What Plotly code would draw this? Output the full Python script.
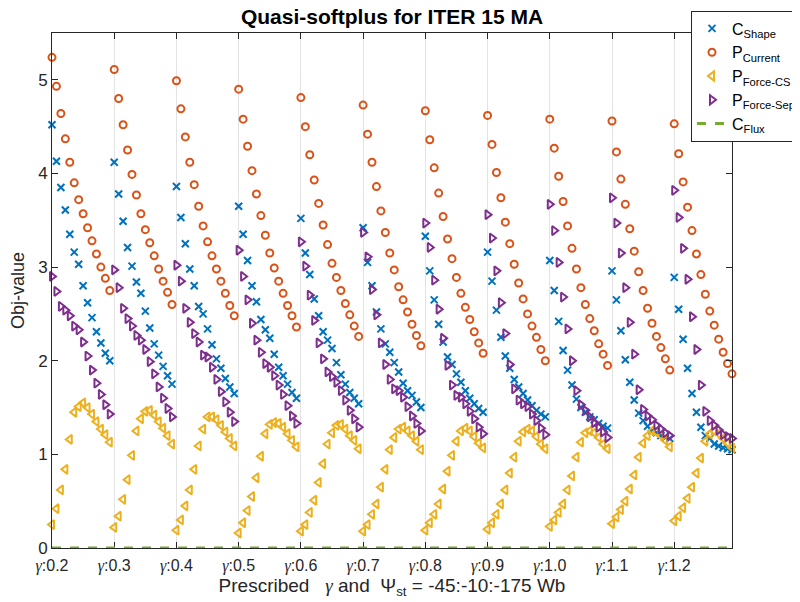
import plotly.graph_objects as go

gammas = ["0.2", "0.3", "0.4", "0.5", "0.6", "0.7", "0.8", "0.9", "1.0", "1.1", "1.2"]
psi_st = [-45, -55, -65, -75, -85, -95, -105, -115, -125, -135, -145, -155, -165, -175]

c_shape = [
    [4.52, 4.13, 3.85, 3.61, 3.35, 3.16, 3.03, 2.80, 2.62, 2.46, 2.31, 2.19, 2.08, 2.00],
    [4.12, 3.78, 3.49, 3.21, 3.01, 2.84, 2.72, 2.53, 2.35, 2.18, 2.06, 1.94, 1.84, 1.75],
    [3.86, 3.53, 3.25, 2.98, 2.80, 2.58, 2.50, 2.34, 2.17, 2.02, 1.92, 1.81, 1.72, 1.65],
    [3.65, 3.35, 3.07, 2.80, 2.63, 2.44, 2.33, 2.24, 2.07, 1.93, 1.84, 1.75, 1.66, 1.60],
    [3.52, 3.15, 2.92, 2.66, 2.48, 2.31, 2.22, 2.13, 1.98, 1.85, 1.75, 1.66, 1.60, 1.54],
    [3.42, 3.05, 2.80, 2.52, 2.34, 2.18, 2.09, 1.98, 1.88, 1.76, 1.68, 1.63, 1.56, 1.50],
    [3.33, 2.96, 2.65, 2.39, 2.20, 2.04, 1.96, 1.86, 1.77, 1.68, 1.60, 1.54, 1.49, 1.45],
    [3.16, 2.85, 2.54, 2.25, 2.05, 1.92, 1.80, 1.72, 1.65, 1.58, 1.52, 1.47, 1.43, 1.40],
    [3.07, 2.75, 2.42, 2.11, 1.90, 1.74, 1.59, 1.50, 1.45, 1.40, 1.37, 1.33, 1.30, 1.28],
    [2.96, 2.65, 2.32, 2.01, 1.77, 1.58, 1.44, 1.36, 1.30, 1.25, 1.23, 1.20, 1.18, 1.17],
    [2.89, 2.55, 2.23, 1.92, 1.65, 1.45, 1.29, 1.20, 1.17, 1.11, 1.09, 1.07, 1.06, 1.05],
]

p_current = [
    [5.24, 4.93, 4.64, 4.37, 4.12, 3.90, 3.72, 3.57, 3.42, 3.28, 3.14, 3.00, 2.88, 2.75],
    [5.11, 4.80, 4.52, 4.25, 3.99, 3.77, 3.57, 3.40, 3.26, 3.12, 2.98, 2.85, 2.73, 2.60],
    [4.99, 4.69, 4.39, 4.12, 3.88, 3.65, 3.44, 3.27, 3.12, 2.98, 2.85, 2.72, 2.59, 2.48],
    [4.90, 4.58, 4.29, 4.03, 3.78, 3.55, 3.34, 3.15, 2.99, 2.85, 2.72, 2.59, 2.48, 2.36],
    [4.81, 4.50, 4.20, 3.93, 3.68, 3.45, 3.24, 3.04, 2.89, 2.75, 2.61, 2.49, 2.37, 2.26],
    [4.73, 4.42, 4.12, 3.86, 3.60, 3.37, 3.15, 2.97, 2.79, 2.65, 2.52, 2.39, 2.27, 2.16],
    [4.67, 4.36, 4.06, 3.79, 3.54, 3.30, 3.09, 2.89, 2.72, 2.57, 2.44, 2.31, 2.19, 2.08],
    [4.62, 4.31, 4.01, 3.74, 3.48, 3.25, 3.03, 2.83, 2.66, 2.50, 2.37, 2.25, 2.12, 2.00],
    [4.58, 4.27, 3.97, 3.70, 3.44, 3.20, 2.98, 2.78, 2.60, 2.45, 2.32, 2.18, 2.07, 1.95],
    [4.56, 4.23, 3.94, 3.67, 3.41, 3.17, 2.95, 2.75, 2.56, 2.40, 2.26, 2.14, 2.02, 1.90],
    [4.53, 4.21, 3.91, 3.64, 3.39, 3.14, 2.92, 2.71, 2.53, 2.38, 2.23, 2.09, 1.97, 1.86],
]

p_force_cs = [
    [0.25, 0.42, 0.62, 0.84, 1.16, 1.45, 1.51, 1.55, 1.50, 1.43, 1.35, 1.27, 1.21, 1.13],
    [0.22, 0.34, 0.52, 0.73, 0.99, 1.25, 1.38, 1.46, 1.47, 1.42, 1.35, 1.28, 1.20, 1.11],
    [0.19, 0.30, 0.45, 0.62, 0.84, 1.09, 1.27, 1.40, 1.40, 1.37, 1.31, 1.24, 1.17, 1.09],
    [0.16, 0.27, 0.40, 0.55, 0.75, 0.98, 1.22, 1.32, 1.34, 1.33, 1.29, 1.22, 1.15, 1.08],
    [0.18, 0.25, 0.38, 0.51, 0.70, 0.90, 1.11, 1.23, 1.31, 1.32, 1.27, 1.20, 1.15, 1.06],
    [0.18, 0.25, 0.36, 0.47, 0.65, 0.84, 1.05, 1.18, 1.27, 1.29, 1.25, 1.20, 1.14, 1.05],
    [0.19, 0.27, 0.36, 0.47, 0.63, 0.82, 0.99, 1.14, 1.25, 1.28, 1.25, 1.19, 1.12, 1.07],
    [0.20, 0.27, 0.36, 0.47, 0.62, 0.80, 0.97, 1.14, 1.24, 1.27, 1.25, 1.19, 1.11, 1.06],
    [0.23, 0.30, 0.38, 0.47, 0.62, 0.77, 0.97, 1.13, 1.23, 1.25, 1.23, 1.18, 1.11, 1.06],
    [0.26, 0.33, 0.41, 0.50, 0.63, 0.78, 0.97, 1.12, 1.20, 1.25, 1.24, 1.20, 1.15, 1.08],
    [0.29, 0.34, 0.43, 0.53, 0.65, 0.80, 0.96, 1.14, 1.22, 1.25, 1.22, 1.17, 1.12, 1.07],
]

p_force_sep = [
    [2.90, 2.74, 2.58, 2.54, 2.48, 2.37, 2.33, 2.20, 2.05, 1.90, 1.76, 1.64, 1.53, 1.43],
    [2.97, 2.78, 2.56, 2.45, 2.37, 2.27, 2.22, 2.12, 1.99, 1.86, 1.72, 1.60, 1.49, 1.40],
    [3.02, 2.85, 2.56, 2.41, 2.29, 2.20, 2.06, 2.04, 1.93, 1.80, 1.67, 1.56, 1.45, 1.35],
    [3.18, 2.90, 2.65, 2.40, 2.22, 2.09, 1.97, 1.93, 1.84, 1.74, 1.64, 1.52, 1.41, 1.33],
    [3.27, 3.01, 2.70, 2.43, 2.19, 2.02, 1.88, 1.83, 1.77, 1.68, 1.58, 1.47, 1.38, 1.29],
    [3.37, 3.11, 2.76, 2.49, 2.19, 1.96, 1.80, 1.70, 1.68, 1.61, 1.51, 1.41, 1.33, 1.25],
    [3.47, 3.21, 2.86, 2.55, 2.24, 1.95, 1.74, 1.63, 1.61, 1.54, 1.46, 1.38, 1.29, 1.22],
    [3.56, 3.31, 2.96, 2.62, 2.29, 1.96, 1.70, 1.58, 1.54, 1.51, 1.43, 1.36, 1.28, 1.21],
    [3.67, 3.39, 3.05, 2.68, 2.34, 2.00, 1.68, 1.53, 1.47, 1.40, 1.34, 1.29, 1.24, 1.18],
    [3.74, 3.47, 3.15, 2.78, 2.41, 2.07, 1.69, 1.48, 1.41, 1.37, 1.31, 1.27, 1.23, 1.20],
    [3.82, 3.53, 3.20, 2.87, 2.47, 2.12, 1.74, 1.46, 1.36, 1.31, 1.26, 1.21, 1.19, 1.17],
]

c_flux = [0.0] * (len(gammas) * len(psi_st))

n_psi = len(psi_st)
x_idx = list(range(1, len(gammas) * n_psi + 1))
tick_vals = [1 + i * n_psi for i in range(len(gammas))]
GAMMA = '<span style="font-family:Liberation Serif, DejaVu Serif, serif"><i>γ</i></span>'
tick_text = [GAMMA + ":" + g for g in gammas]


def flat(nested):
    return [v for row in nested for v in row]


BLUE = "#0072BD"
ORANGE = "#D95319"
YELLOW = "#EDB120"
PURPLE = "#7E2F8E"
GREEN = "#77AC30"

fig = go.Figure()
fig.add_trace(go.Scatter(
    x=x_idx, y=flat(c_shape), mode="markers", name="C<sub>Shape</sub>",
    marker=dict(symbol="x-thin-open", size=7, color=BLUE, line=dict(color=BLUE, width=2)),
    cliponaxis=False))
fig.add_trace(go.Scatter(
    x=x_idx, y=flat(p_current), mode="markers", name="P<sub>Current</sub>",
    marker=dict(symbol="circle-open", size=7, color=ORANGE, line=dict(color=ORANGE, width=2)),
    cliponaxis=False))
fig.add_trace(go.Scatter(
    x=x_idx, y=flat(p_force_cs), mode="markers", name="P<sub>Force-CS</sub>",
    marker=dict(symbol="triangle-left-open", size=8, color=YELLOW, line=dict(color=YELLOW, width=2)),
    cliponaxis=False))
fig.add_trace(go.Scatter(
    x=x_idx, y=flat(p_force_sep), mode="markers", name="P<sub>Force-Sep</sub>",
    marker=dict(symbol="triangle-right-open", size=8, color=PURPLE, line=dict(color=PURPLE, width=2)),
    cliponaxis=False))
fig.add_trace(go.Scatter(
    x=x_idx, y=c_flux, mode="lines", name="C<sub>Flux</sub>",
    line=dict(color=GREEN, width=3, dash="dash")))

FONT = "Liberation Sans, Arial, Helvetica, sans-serif"
TXT = "#262626"

# page body has an 8px margin: figure is 792x594 drawn at (8, 8)
W, H = 792, 594
ML, MR, MT, MB = 44, 68, 25, 54

fig.update_layout(
    template="none",
    width=W, height=H,
    margin=dict(l=ML, r=MR, t=MT, b=MB, pad=0, autoexpand=False),
    paper_bgcolor="white", plot_bgcolor="white",
    font=dict(family=FONT, size=16, color=TXT),
    title=dict(text="<b>Quasi-softplus for ITER 15 MA</b>", x=(392 - 8) / W, xanchor="center",
               y=1 - 1.5 / H, yref="container", yanchor="top", pad=dict(t=0, b=0),
               font=dict(size=21, color="black")),
    showlegend=True,
    legend=dict(x=(691 - 52) / 680, y=(548 - 10.5) / 515, xanchor="left", yanchor="top",
                bgcolor="white", bordercolor=TXT, borderwidth=1,
                font=dict(size=16, color="black"), tracegroupgap=0, itemwidth=30),
)
fig.update_xaxes(
    range=[1, 154], tickvals=tick_vals, ticktext=tick_text, automargin=False,
    showgrid=True, gridcolor="#e3e3e3", gridwidth=1, zeroline=False,
    showline=True, linecolor=TXT, linewidth=1, mirror="ticks",
    ticks="inside", ticklen=6, tickcolor=TXT, layer="below traces",
    tickfont=dict(size=16, color=TXT), ticklabelstandoff=3,
    title=dict(text="Prescribed\u00a0\u00a0 " + GAMMA + " and\u00a0 Ψ<sub>st</sub> = -45:-10:-175 Wb",
               font=dict(size=19, color=TXT), standoff=0),
)
fig.update_yaxes(
    range=[0, 5.5], tickvals=[0, 1, 2, 3, 4, 5], automargin=False,
    showgrid=False, zeroline=False,
    showline=True, linecolor=TXT, linewidth=1, mirror="ticks",
    ticks="inside", ticklen=6, tickcolor=TXT,
    tickfont=dict(size=17, color=TXT),
    title=dict(text="Obj-value", font=dict(size=18, color=TXT), standoff=8),
)

fig.write_html("out.html")
